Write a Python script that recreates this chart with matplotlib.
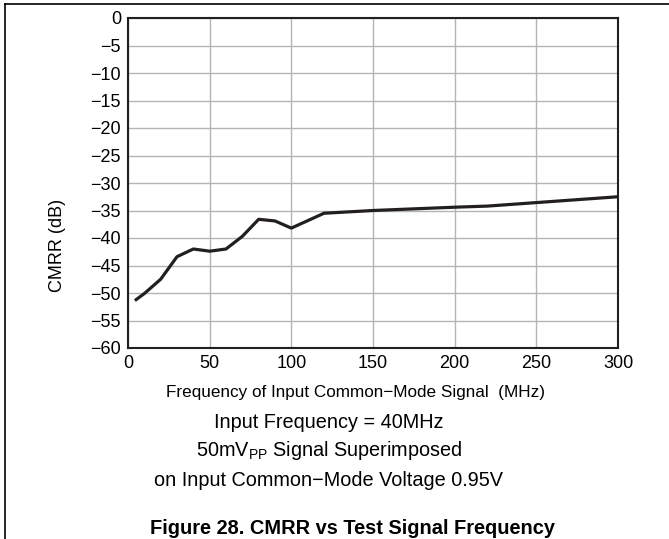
import matplotlib.pyplot as plt
from matplotlib.lines import Line2D

plt.rcParams["font.family"] = ["Liberation Sans", "DejaVu Sans"]
plt.rcParams["mathtext.fontset"] = "custom"
plt.rcParams["mathtext.rm"] = "Liberation Sans"

# CMRR vs frequency of input common-mode signal
freq_mhz = [5, 10, 20, 30, 40, 50, 60, 70, 80, 90, 100, 120, 150, 200, 220, 300]
cmrr_db = [-51.2, -50.1, -47.5, -43.4, -42.0, -42.4, -42.0, -39.7, -36.6, -36.9,
           -38.2, -35.5, -35.0, -34.4, -34.2, -32.5]

x_ticks = [0, 50, 100, 150, 200, 250, 300]
y_ticks = list(range(-60, 1, 5))

notes = [
    "Input Frequency = 40MHz",
    r"50mV$_{\mathregular{PP}}$ Signal Superimposed",
    "on Input Common\u2212Mode Voltage 0.95V",
]

fig = plt.figure(figsize=(6.69, 5.39), dpi=100)
ax = fig.add_axes([128 / 669, 1 - 348 / 539, 490 / 669, 330 / 539])

ax.plot(freq_mhz, cmrr_db, color="#231f20", linewidth=2.3, solid_joinstyle="round")

ax.set_xlim(0, 300)
ax.set_ylim(-60, 0)
ax.set_xticks(x_ticks)
ax.set_yticks(y_ticks)
ax.grid(True, color="#b4b4b4", linewidth=1.0)
ax.set_axisbelow(True)
ax.tick_params(length=0, labelsize=13, pad=5)
for s in ax.spines.values():
    s.set_linewidth(1.5)
    s.set_color("#231f20")

fig.text(356 / 669, 1 - 393 / 539, "Frequency of Input Common\u2212Mode Signal  (MHz)",
         ha="center", va="center", fontsize=12.3)
fig.text(58 / 669, 1 - 245 / 539, "CMRR (dB)", rotation=90,
         ha="center", va="center", fontsize=13)

for i, t in enumerate(notes):
    fig.text(329 / 669, 1 - (422 + 29 * i) / 539, t, ha="center", va="center", fontsize=14.3)

fig.text(352 / 669, 1 - 528 / 539, "Figure 28. CMRR vs Test Signal Frequency",
         ha="center", va="center", fontsize=14.4, fontweight="bold")

# page frame (top and left edges)
fig.add_artist(Line2D([5 / 669, 1], [1 - 4 / 539] * 2, color="black", linewidth=1.2))
fig.add_artist(Line2D([5 / 669] * 2, [0, 1 - 4 / 539], color="black", linewidth=1.2))

fig.savefig("out.png", dpi=100)
